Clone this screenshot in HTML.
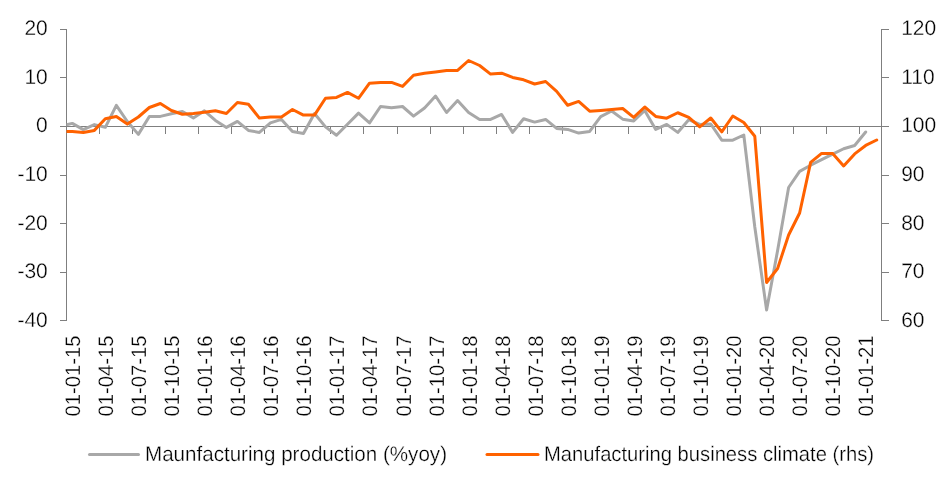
<!DOCTYPE html>
<html><head><meta charset="utf-8"><title>Chart</title>
<style>
html,body{margin:0;padding:0;background:#fff;}
body{width:952px;height:491px;overflow:hidden;font-family:"Liberation Sans",sans-serif;}
svg{display:block;will-change:transform;}
text{font-family:"Liberation Sans",sans-serif;font-size:21px;fill:#000;stroke:#fff;stroke-width:0.3px;text-rendering:geometricPrecision;}
</style></head><body>
<svg width="952" height="491" viewBox="0 0 952 491">
<rect width="952" height="491" fill="#fff"/>
<g stroke="#7f7f7f" stroke-width="1" fill="none" shape-rendering="crispEdges">
<line x1="66.5" y1="29" x2="66.5" y2="321"/>
<line x1="881.5" y1="29" x2="881.5" y2="321"/>
<line x1="66" y1="126.5" x2="882" y2="126.5"/>
<line x1="60" y1="29.5" x2="66" y2="29.5"/>
<line x1="882" y1="29.5" x2="889" y2="29.5"/>
<line x1="60" y1="77.5" x2="66" y2="77.5"/>
<line x1="882" y1="77.5" x2="889" y2="77.5"/>
<line x1="60" y1="126.5" x2="66" y2="126.5"/>
<line x1="882" y1="126.5" x2="889" y2="126.5"/>
<line x1="60" y1="175.5" x2="66" y2="175.5"/>
<line x1="882" y1="175.5" x2="889" y2="175.5"/>
<line x1="60" y1="223.5" x2="66" y2="223.5"/>
<line x1="882" y1="223.5" x2="889" y2="223.5"/>
<line x1="60" y1="272.5" x2="66" y2="272.5"/>
<line x1="882" y1="272.5" x2="889" y2="272.5"/>
<line x1="60" y1="320.5" x2="66" y2="320.5"/>
<line x1="882" y1="320.5" x2="889" y2="320.5"/>
<line x1="66.5" y1="126" x2="66.5" y2="134"/>
<line x1="99.5" y1="126" x2="99.5" y2="134"/>
<line x1="132.5" y1="126" x2="132.5" y2="134"/>
<line x1="165.5" y1="126" x2="165.5" y2="134"/>
<line x1="198.5" y1="126" x2="198.5" y2="134"/>
<line x1="231.5" y1="126" x2="231.5" y2="134"/>
<line x1="264.5" y1="126" x2="264.5" y2="134"/>
<line x1="297.5" y1="126" x2="297.5" y2="134"/>
<line x1="330.5" y1="126" x2="330.5" y2="134"/>
<line x1="363.5" y1="126" x2="363.5" y2="134"/>
<line x1="397.5" y1="126" x2="397.5" y2="134"/>
<line x1="430.5" y1="126" x2="430.5" y2="134"/>
<line x1="463.5" y1="126" x2="463.5" y2="134"/>
<line x1="496.5" y1="126" x2="496.5" y2="134"/>
<line x1="529.5" y1="126" x2="529.5" y2="134"/>
<line x1="562.5" y1="126" x2="562.5" y2="134"/>
<line x1="595.5" y1="126" x2="595.5" y2="134"/>
<line x1="628.5" y1="126" x2="628.5" y2="134"/>
<line x1="661.5" y1="126" x2="661.5" y2="134"/>
<line x1="694.5" y1="126" x2="694.5" y2="134"/>
<line x1="727.5" y1="126" x2="727.5" y2="134"/>
<line x1="760.5" y1="126" x2="760.5" y2="134"/>
<line x1="793.5" y1="126" x2="793.5" y2="134"/>
<line x1="826.5" y1="126" x2="826.5" y2="134"/>
<line x1="859.5" y1="126" x2="859.5" y2="134"/>
</g>
<clipPath id="cp"><rect x="66.5" y="0" width="830" height="400"/></clipPath><g clip-path="url(#cp)">
<polyline points="66.50,124.70 72.30,123.40 83.31,129.60 94.32,124.60 105.32,127.30 116.33,105.40 127.34,121.50 138.35,134.40 149.36,116.50 160.36,116.40 171.37,113.75 182.38,111.50 193.39,117.90 204.40,110.80 215.40,120.40 226.41,127.40 237.42,121.40 248.43,130.40 259.44,132.40 270.44,122.90 281.45,119.40 292.46,131.40 303.47,133.40 314.48,113.50 325.48,126.90 336.49,135.20 347.50,124.20 358.51,113.15 369.52,122.90 380.52,106.50 391.53,107.80 402.54,106.50 413.55,116.15 424.56,108.00 435.56,96.00 446.57,112.50 457.58,100.50 468.59,112.50 479.60,119.40 490.60,119.40 501.61,114.45 512.62,132.40 523.63,118.75 534.64,122.10 545.64,119.45 556.65,128.40 567.66,129.40 578.67,133.10 589.68,131.40 600.68,116.70 611.69,111.00 622.70,119.15 633.71,120.90 644.72,110.50 655.72,129.40 666.73,124.40 677.74,132.40 688.75,119.70 699.76,124.50 710.76,124.00 721.77,140.20 732.78,140.20 743.79,135.00 754.80,227.00 766.60,310.00 777.61,250.50 788.62,187.50 799.63,171.40 810.64,165.20 821.64,159.70 832.65,154.10 843.66,148.75 854.67,145.45 865.68,132.00" fill="none" stroke="#a8a8a8" stroke-width="3" stroke-linejoin="round" stroke-linecap="round"/>
<polyline points="66.50,131.60 72.30,131.40 83.31,132.40 94.32,130.40 105.32,118.75 116.33,116.50 127.34,124.10 138.35,117.00 149.36,107.50 160.36,103.50 171.37,110.50 182.38,114.25 193.39,113.50 204.40,112.20 215.40,110.70 226.41,113.50 237.42,102.50 248.43,104.20 259.44,118.10 270.44,117.10 281.45,117.10 292.46,109.50 303.47,115.10 314.48,115.10 325.48,98.20 336.49,97.40 347.50,92.40 358.51,98.30 369.52,83.20 380.52,82.40 391.53,82.40 402.54,86.40 413.55,75.30 424.56,73.25 435.56,71.90 446.57,70.45 457.58,70.45 468.59,60.50 479.60,65.50 490.60,74.10 501.61,73.20 512.62,77.45 523.63,79.80 534.64,84.00 545.64,81.50 556.65,91.40 567.66,105.25 578.67,101.45 589.68,111.20 600.68,110.40 611.69,109.50 622.70,108.50 633.71,117.45 644.72,107.00 655.72,116.45 666.73,118.15 677.74,112.75 688.75,117.45 699.76,126.90 710.76,118.00 721.77,131.90 732.78,116.00 743.79,122.45 754.80,136.30 766.60,282.50 777.61,268.50 788.62,235.00 799.63,213.00 810.64,162.40 821.64,153.40 832.65,153.40 843.66,165.90 854.67,153.90 865.68,145.45 876.68,140.00" fill="none" stroke="#ff6200" stroke-width="3" stroke-linejoin="round" stroke-linecap="round"/>
</g>
<text x="47.8" y="35" text-anchor="end">20</text>
<text x="47.8" y="84" text-anchor="end">10</text>
<text x="47.8" y="132" text-anchor="end">0</text>
<text x="47.8" y="181" text-anchor="end">-10</text>
<text x="47.8" y="230" text-anchor="end">-20</text>
<text x="47.8" y="278" text-anchor="end">-30</text>
<text x="47.8" y="327" text-anchor="end">-40</text>
<text x="901.2" y="35">120</text>
<text x="901.2" y="84">110</text>
<text x="901.2" y="132">100</text>
<text x="901.2" y="181">90</text>
<text x="901.2" y="230">80</text>
<text x="901.2" y="278">70</text>
<text x="901.2" y="327">60</text>
<text transform="translate(80.0,335.4) rotate(-90)" text-anchor="end" font-size="22" textLength="81.2" lengthAdjust="spacingAndGlyphs">01-01-15</text>
<text transform="translate(113.0,335.4) rotate(-90)" text-anchor="end" font-size="22" textLength="81.2" lengthAdjust="spacingAndGlyphs">01-04-15</text>
<text transform="translate(146.0,335.4) rotate(-90)" text-anchor="end" font-size="22" textLength="81.2" lengthAdjust="spacingAndGlyphs">01-07-15</text>
<text transform="translate(179.0,335.4) rotate(-90)" text-anchor="end" font-size="22" textLength="81.2" lengthAdjust="spacingAndGlyphs">01-10-15</text>
<text transform="translate(212.0,335.4) rotate(-90)" text-anchor="end" font-size="22" textLength="81.2" lengthAdjust="spacingAndGlyphs">01-01-16</text>
<text transform="translate(245.0,335.4) rotate(-90)" text-anchor="end" font-size="22" textLength="81.2" lengthAdjust="spacingAndGlyphs">01-04-16</text>
<text transform="translate(278.0,335.4) rotate(-90)" text-anchor="end" font-size="22" textLength="81.2" lengthAdjust="spacingAndGlyphs">01-07-16</text>
<text transform="translate(311.0,335.4) rotate(-90)" text-anchor="end" font-size="22" textLength="81.2" lengthAdjust="spacingAndGlyphs">01-10-16</text>
<text transform="translate(344.0,335.4) rotate(-90)" text-anchor="end" font-size="22" textLength="81.2" lengthAdjust="spacingAndGlyphs">01-01-17</text>
<text transform="translate(377.0,335.4) rotate(-90)" text-anchor="end" font-size="22" textLength="81.2" lengthAdjust="spacingAndGlyphs">01-04-17</text>
<text transform="translate(411.0,335.4) rotate(-90)" text-anchor="end" font-size="22" textLength="81.2" lengthAdjust="spacingAndGlyphs">01-07-17</text>
<text transform="translate(444.0,335.4) rotate(-90)" text-anchor="end" font-size="22" textLength="81.2" lengthAdjust="spacingAndGlyphs">01-10-17</text>
<text transform="translate(477.0,335.4) rotate(-90)" text-anchor="end" font-size="22" textLength="81.2" lengthAdjust="spacingAndGlyphs">01-01-18</text>
<text transform="translate(510.0,335.4) rotate(-90)" text-anchor="end" font-size="22" textLength="81.2" lengthAdjust="spacingAndGlyphs">01-04-18</text>
<text transform="translate(543.0,335.4) rotate(-90)" text-anchor="end" font-size="22" textLength="81.2" lengthAdjust="spacingAndGlyphs">01-07-18</text>
<text transform="translate(576.0,335.4) rotate(-90)" text-anchor="end" font-size="22" textLength="81.2" lengthAdjust="spacingAndGlyphs">01-10-18</text>
<text transform="translate(609.0,335.4) rotate(-90)" text-anchor="end" font-size="22" textLength="81.2" lengthAdjust="spacingAndGlyphs">01-01-19</text>
<text transform="translate(642.0,335.4) rotate(-90)" text-anchor="end" font-size="22" textLength="81.2" lengthAdjust="spacingAndGlyphs">01-04-19</text>
<text transform="translate(675.0,335.4) rotate(-90)" text-anchor="end" font-size="22" textLength="81.2" lengthAdjust="spacingAndGlyphs">01-07-19</text>
<text transform="translate(708.0,335.4) rotate(-90)" text-anchor="end" font-size="22" textLength="81.2" lengthAdjust="spacingAndGlyphs">01-10-19</text>
<text transform="translate(741.0,335.4) rotate(-90)" text-anchor="end" font-size="22" textLength="81.2" lengthAdjust="spacingAndGlyphs">01-01-20</text>
<text transform="translate(774.0,335.4) rotate(-90)" text-anchor="end" font-size="22" textLength="81.2" lengthAdjust="spacingAndGlyphs">01-04-20</text>
<text transform="translate(807.0,335.4) rotate(-90)" text-anchor="end" font-size="22" textLength="81.2" lengthAdjust="spacingAndGlyphs">01-07-20</text>
<text transform="translate(840.0,335.4) rotate(-90)" text-anchor="end" font-size="22" textLength="81.2" lengthAdjust="spacingAndGlyphs">01-10-20</text>
<text transform="translate(873.0,335.4) rotate(-90)" text-anchor="end" font-size="22" textLength="81.2" lengthAdjust="spacingAndGlyphs">01-01-21</text>
<line x1="89.5" y1="454.4" x2="138.5" y2="454.4" stroke="#a8a8a8" stroke-width="3" stroke-linecap="round"/>
<text x="145" y="461.3" textLength="302" lengthAdjust="spacingAndGlyphs">Maunfacturing production (%yoy)</text>
<line x1="487" y1="454.4" x2="538" y2="454.4" stroke="#ff6200" stroke-width="3" stroke-linecap="round"/>
<text x="544" y="461.3" textLength="330" lengthAdjust="spacingAndGlyphs">Manufacturing business climate (rhs)</text>
</svg></body></html>
